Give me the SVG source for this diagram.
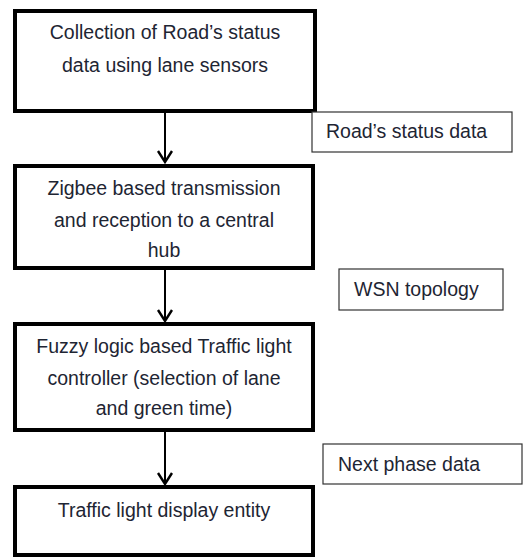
<svg xmlns="http://www.w3.org/2000/svg" width="532" height="557" viewBox="0 0 532 557">
<defs>
<style>
.box{fill:#fff;stroke:#000;stroke-width:4}
.lbl{fill:#fff;stroke:#333;stroke-width:1.2}
text{font-family:"Liberation Sans",Arial,sans-serif;font-size:19.5px;fill:#1e2533}
.c{text-anchor:middle}
.conn{stroke:#000;stroke-width:2;fill:none}
.head{stroke:#000;stroke-width:2.4;fill:none;stroke-linejoin:miter}
</style>
</defs>
<rect width="532" height="557" fill="#fff"/>
<g id="connectors">
<line class="conn" x1="165" y1="112" x2="165" y2="162"/>
<path class="head" d="M158,151 L165,162 L172,151"/>
<line class="conn" x1="165" y1="268" x2="165" y2="321"/>
<path class="head" d="M158,310 L165,321 L172,310"/>
<line class="conn" x1="165" y1="430" x2="165" y2="484"/>
<path class="head" d="M158,473 L165,484 L172,473"/>
</g>
<g id="node1">
<rect class="box" x="15" y="11" width="300" height="100"/>
<text class="c" x="165" y="39">Collection of Road’s status</text>
<text class="c" x="165" y="72">data using lane sensors</text>
</g>
<g id="label1">
<rect class="lbl" x="312" y="112" width="200" height="40"/>
<text x="326" y="138">Road’s status data</text>
</g>
<g id="node2">
<rect class="box" x="15" y="166" width="298" height="102"/>
<text class="c" x="164" y="195">Zigbee based transmission</text>
<text class="c" x="164" y="227">and reception to a central</text>
<text class="c" x="164" y="257">hub</text>
</g>
<g id="label2">
<rect class="lbl" x="339" y="269" width="164" height="41"/>
<text x="354" y="296">WSN topology</text>
</g>
<g id="node3">
<rect class="box" x="15" y="324" width="298" height="106"/>
<text class="c" x="164" y="353">Fuzzy logic based Traffic light</text>
<text class="c" x="164" y="385">controller (selection of lane</text>
<text class="c" x="164" y="415">and green time)</text>
</g>
<g id="label3">
<rect class="lbl" x="323" y="444" width="199" height="40"/>
<text x="338" y="471">Next phase data</text>
</g>
<g id="node4">
<rect class="box" x="15" y="487" width="298" height="68"/>
<text class="c" x="164" y="517">Traffic light display entity</text>
</g>
</svg>
